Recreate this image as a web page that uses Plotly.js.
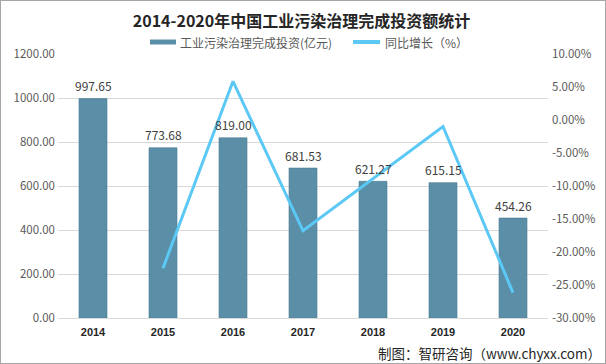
<!DOCTYPE html>
<html><head><meta charset="utf-8">
<script src="https://cdn.plot.ly/plotly-3.0.1.min.js"></script>
<style>
html,body{margin:0;padding:0;background:#fff;}
#chart{width:604px;height:362px;border:1px solid #a6a6a6;}
</style></head>
<body><div id="chart"></div>
<script>
const years = ['2014','2015','2016','2017','2018','2019','2020'];
const investment = [997.65, 773.68, 819.00, 681.53, 621.27, 615.15, 454.26];
const growthYears = ['2015','2016','2017','2018','2019','2020'];
const growth = [-22.45, 5.86, -16.79, -8.84, -0.99, -26.16];
const leftTicks = [0, 200, 400, 600, 800, 1000, 1200];
const rightTicks = [-30, -25, -20, -15, -10, -5, 0, 5, 10];
const barName = '工业污染治理完成投资(亿元)';
const lineName = '同比增长（%）';

const font = '"Noto Sans CJK SC", "Noto Sans", sans-serif';
const barColor = '#5b8fa8', lineColor = '#5bc8f5';
// pixel helpers (page px -> paper), plot area x 58..548, y 54..318 in page px
const L = 57, R = 57, T = 53, B = 45, W = 604, H = 362;
const px = x => (x - 1 - L) / (W - L - R);
const py = y => (H - B - (y - 1)) / (H - T - B);

const data = [
  {type:'bar', x: years, y: investment, name: barName, showlegend:false,
   marker:{color: barColor, line:{color:'#4a7a92', width:0.6}}, hoverinfo:'skip'},
  {type:'scatter', mode:'lines', x: growthYears, y: growth, yaxis:'y2', name: lineName, showlegend:false,
   line:{color: lineColor, width:3}, hoverinfo:'skip'}
];
const valueLabels = years.map((yr, i) => ({
  xref:'x', yref:'y', x: i, y: investment[i], yshift: 13, showarrow:false,
  xanchor:'center', yanchor:'middle', text: investment[i].toFixed(2),
  font:{size:12, color:'#404040', family:font}
}));
const layout = {
  width:W, height:H,
  margin:{l:L, r:R, t:T, b:B},
  paper_bgcolor:'#ffffff', plot_bgcolor:'#ffffff',
  font:{family:font, size:11, color:'#595959'},
  title:{text:'<b>2014-2020年中国工业污染治理完成投资额统计</b>', x:px(301.5), xref:'paper', xanchor:'center',
         yref:'container', y:1 - 20/H, yanchor:'middle',
         font:{size:16, color:'#262626', family:font}},
  showlegend:false,
  bargap:0.6,
  xaxis:{type:'category', categoryarray: years, range:[-0.5, years.length - 0.5],
         showgrid:false, showline:true, linecolor:'#d9d9d9', linewidth:1,
         ticks:'', tickfont:{size:11, color:'#262626', family:'"Liberation Sans", Arial, sans-serif', weight:'bold'},
         ticklabelstandoff:4},
  yaxis:{range:[0,1200], tickvals:leftTicks, ticktext:leftTicks.map(v=>v.toFixed(2)),
         showgrid:true, gridcolor:'#d9d9d9', gridwidth:1, zeroline:false, showline:false, ticks:'',
         tickfont:{size:11.5, color:'#595959'}, ticklabelstandoff:2},
  yaxis2:{overlaying:'y', side:'right', range:[-30,10], tickvals:rightTicks,
          ticktext:rightTicks.map(v=>v.toFixed(2)+'%'),
          showgrid:false, zeroline:false, showline:false, ticks:'', tickfont:{size:11.5, color:'#595959'},
          ticklabelstandoff:3},
  shapes:[
    {type:'rect', xref:'paper', yref:'paper', x0:px(150), x1:px(176), y0:py(44.5), y1:py(39.5),
     fillcolor: barColor, line:{width:0}},
    {type:'line', xref:'paper', yref:'paper', x0:px(353), x1:px(380), y0:py(42), y1:py(42),
     line:{color: lineColor, width:4}}
  ],
  annotations: valueLabels.concat([
    {xref:'paper', yref:'paper', x:px(178), y:py(42), xanchor:'left', yanchor:'middle', showarrow:false,
     text: barName, font:{size:12, color:'#595959', family:font}},
    {xref:'paper', yref:'paper', x:px(383), y:py(42), xanchor:'left', yanchor:'middle', showarrow:false,
     text: lineName, font:{size:12, color:'#595959', family:font}},
    {xref:'paper', yref:'paper', x:px(603), y:py(353), xanchor:'right', yanchor:'middle', showarrow:false,
     text:'制图：智研咨询（www.chyxx.com）', font:{size:13.5, color:'#262626', family:font}}
  ])
};
Plotly.newPlot('chart', data, layout, {displayModeBar:false, staticPlot:true});
</script></body></html>
